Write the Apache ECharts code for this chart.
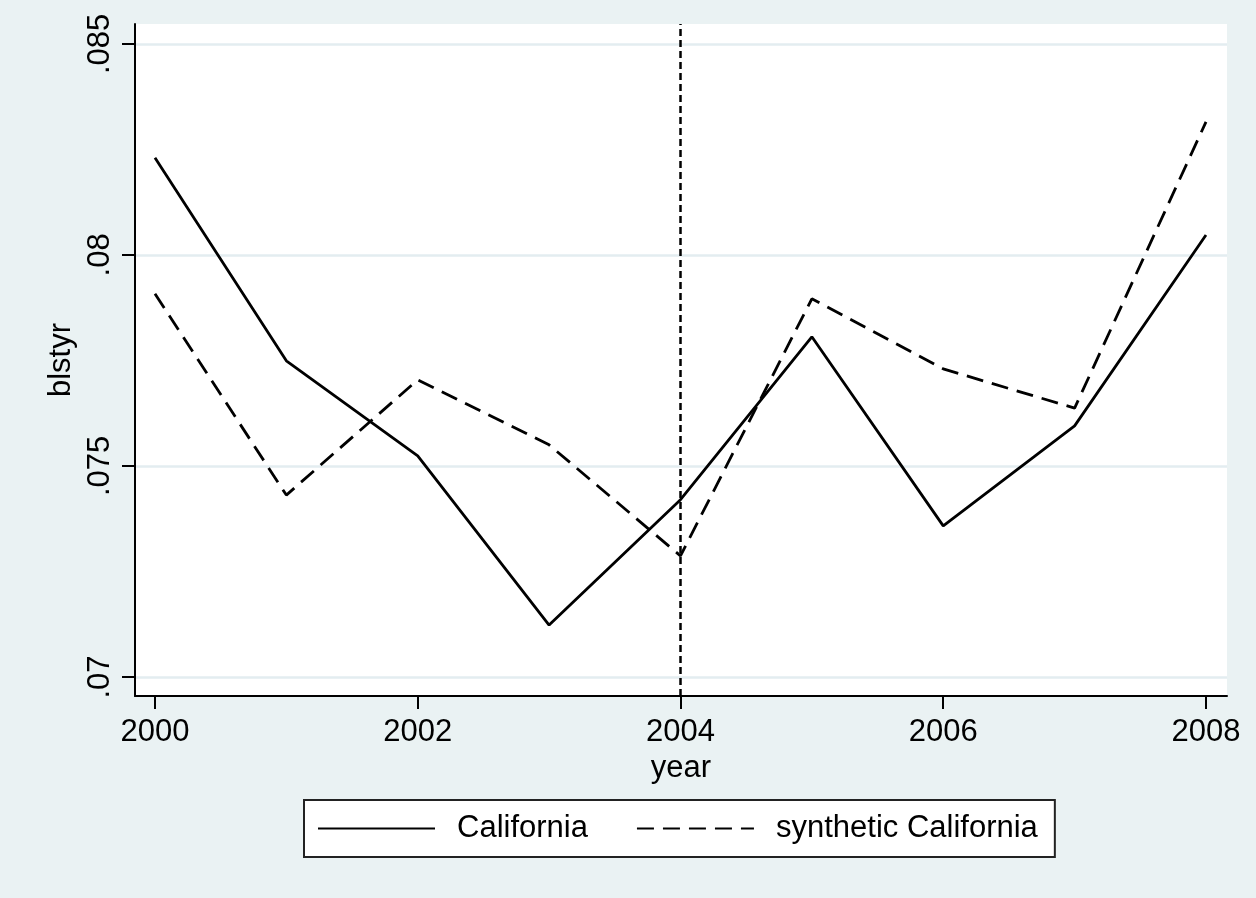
<!DOCTYPE html>
<html><head><meta charset="utf-8">
<script src="https://cdn.jsdelivr.net/npm/echarts@6/dist/echarts.min.js"></script>
<style>html,body{margin:0;padding:0;background:#EAF2F3}#c{width:1256px;height:898px}</style>
</head><body><div id="c"></div>
<script>
const years = [2000, 2001, 2002, 2003, 2004, 2005, 2006, 2007, 2008];
const california = [0.0823, 0.07749, 0.07524, 0.07123, 0.0742, 0.07806, 0.07358, 0.07595, 0.08047];
const synthetic = [0.07908, 0.07431, 0.07704, 0.0755, 0.07287, 0.07896, 0.0773, 0.07637, 0.08315];
const xTicks = [2000, 2002, 2004, 2006, 2008];
const yTicks = [0.07, 0.075, 0.08, 0.085];
const treatmentYear = 2004;

const FONT = 'Liberation Sans, Arial, sans-serif';
const chart = echarts.init(document.getElementById('c'), null, {renderer: 'canvas'});
chart.setOption({
  backgroundColor: '#EAF2F3',
  animation: false,
  grid: {left: 135, right: 29, top: 24, bottom: 202, show: true, backgroundColor: '#ffffff', borderWidth: 0},
  xAxis: {
    type: 'value', min: 1999.848, max: 2008.16,
    name: 'year', nameLocation: 'middle', nameGap: 49,
    nameTextStyle: {fontFamily: FONT, fontSize: 31, color: '#000'},
    axisLine: {lineStyle: {color: '#000', width: 2}},
    axisTick: {length: 13, lineStyle: {color: '#000', width: 2}, customValues: xTicks},
    axisLabel: {fontFamily: FONT, fontSize: 31, color: '#000', margin: 21, customValues: xTicks, formatter: v => String(v)},
    splitLine: {show: false}
  },
  yAxis: {
    type: 'value', min: 0.06955, max: 0.08547,
    name: 'blstyr', nameLocation: 'middle', nameGap: 53,
    nameTextStyle: {fontFamily: FONT, fontSize: 31, color: '#000'},
    axisLine: {show: true, lineStyle: {color: '#000', width: 2}},
    axisTick: {show: true, length: 13, lineStyle: {color: '#000', width: 2}, customValues: yTicks},
    axisLabel: {fontFamily: FONT, fontSize: 31, color: '#000', rotate: 90, margin: 19, customValues: yTicks,
      formatter: v => String(+v.toFixed(4)).replace(/^0/, '')},
    splitLine: {show: true, lineStyle: {color: '#E3EDF0', width: 2.5}}
  },
  legend: {
    data: ['California', 'synthetic California'],
    left: 304, top: 800,
    orient: 'horizontal',
    backgroundColor: '#ffffff', borderColor: '#222', borderWidth: 2, borderRadius: 0,
    padding: [13, 17, 13, 13],
    itemWidth: 117, itemHeight: 20, itemGap: 48,
    itemStyle: {opacity: 0},
    textStyle: {fontFamily: FONT, fontSize: 31, color: '#000', padding: [0, 0, 0, 17]}
  },
  series: [
    {
      name: 'California', type: 'line', symbol: 'none', z: 3,
      data: years.map((y, i) => [y, california[i]]),
      lineStyle: {color: '#000', width: 2.8, type: 'solid'},
      itemStyle: {color: '#000'},
      markLine: {silent: true, symbol: 'none', label: {show: false}, z: 1,
        lineStyle: {color: '#000', width: 2.5, type: [7, 4]},
        data: [{xAxis: treatmentYear}]}
    },
    {
      name: 'synthetic California', type: 'line', symbol: 'none', z: 3,
      data: years.map((y, i) => [y, synthetic[i]]),
      lineStyle: {color: '#000', width: 2.8, type: [17, 9]},
      itemStyle: {color: '#000'}
    }
  ]
});
</script></body></html>
